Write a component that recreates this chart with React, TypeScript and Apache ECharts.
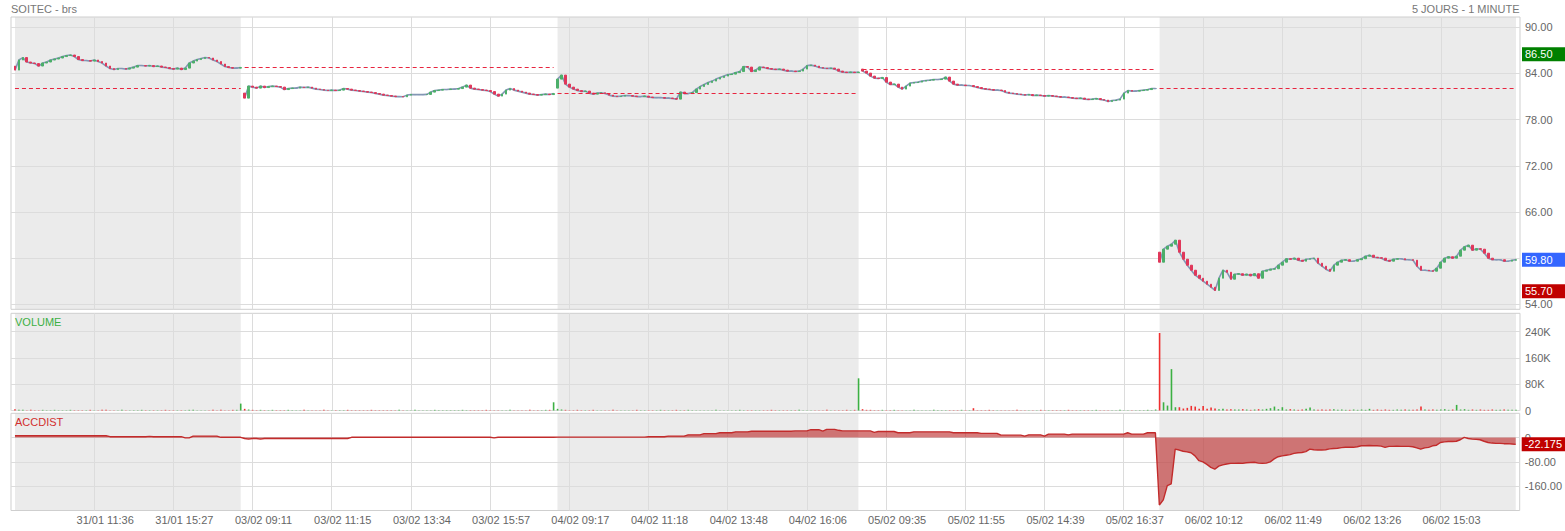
import React, { useEffect, useRef } from 'react';
import * as echarts from 'echarts';

// ---------- DATA ----------
const tickLabels = [
  '31/01 11:36', '31/01 15:27', '03/02 09:11', '03/02 11:15', '03/02 13:34', '03/02 15:57',
  '04/02 09:17', '04/02 11:18', '04/02 13:48', '04/02 16:06', '05/02 09:35', '05/02 11:55',
  '05/02 14:39', '05/02 16:37', '06/02 10:12', '06/02 11:49', '06/02 13:26', '06/02 15:03',
];
const tickStep = 20; // sampled points between two labelled ticks

const dayOpens = [84.95, 81.44, 82.09, 84.56, 60.77];
const prevCloses = [82.05, 84.79, 81.40, 84.53, 82.05];
const shadedDays = [0, 2, 4];

const day1Close = [
  84.43, 85.74, 86.06, 85.48, 85.35, 85.28, 84.96, 85.35, 85.48, 85.74,
  85.87, 86.00, 86.19, 86.32, 86.39, 86.19, 85.80, 85.67, 85.67, 85.60,
  85.74, 85.54, 85.35, 84.96, 84.63, 84.50, 84.63, 84.63, 84.56, 84.69,
  84.82, 85.02, 85.02, 84.96, 85.02, 84.89, 84.96, 84.82, 84.76, 84.63,
  84.56, 84.69, 84.50, 84.69, 85.35, 85.60, 85.80, 85.93, 86.06, 86.00,
  85.74, 85.54, 85.22, 84.89, 84.76, 84.69, 84.69, 84.76,
];
const day2Close = [
  80.79, 82.35, 82.22, 82.09, 82.35, 82.16, 82.29, 82.35, 82.29, 82.22,
  81.90, 82.03, 82.09, 82.09, 82.22, 82.16, 82.22, 82.09, 81.96, 81.90,
  81.83, 81.77, 81.83, 81.77, 81.83, 82.03, 81.96, 81.83, 81.77, 81.70,
  81.64, 81.57, 81.51, 81.38, 81.31, 81.18, 81.12, 81.05, 80.99, 80.99,
  80.96, 81.18, 81.25, 81.25, 81.25, 81.25, 81.27, 81.57, 81.77, 81.83,
  81.90, 81.90, 81.96, 81.96, 82.03, 82.22, 82.48, 82.09, 81.96, 81.90,
  81.83, 81.77, 81.64, 81.31, 81.05, 81.31, 81.83, 82.03, 81.83, 81.70,
  81.57, 81.44, 81.31, 81.25, 81.18, 81.25, 81.31, 81.25, 81.38,
];
const day3Close = [
  83.26, 83.78, 82.61, 82.22, 81.96, 81.77, 81.64, 81.70, 81.44, 81.31,
  81.44, 81.48, 81.38, 81.18, 81.05, 80.99, 81.05, 81.12, 81.12, 81.05,
  80.99, 80.99, 81.05, 80.92, 80.86, 80.86, 80.86, 80.79, 80.79, 80.73,
  80.66, 81.57, 81.38, 81.38, 81.51, 81.96, 82.29, 82.55, 82.81, 83.00,
  83.26, 83.46, 83.65, 83.85, 83.91, 84.11, 84.24, 84.89, 84.82, 84.24,
  84.43, 84.82, 84.76, 84.63, 84.56, 84.50, 84.56, 84.43, 84.30, 84.30,
  84.24, 84.30, 84.56, 85.02, 85.08, 84.95, 84.76, 84.69, 84.63, 84.69,
  84.56, 84.30, 84.17, 84.11, 84.17, 84.11, 84.17,
];
const day4Close = [
  84.30, 84.04, 83.65, 83.39, 83.33, 83.46, 82.87, 82.55, 82.61, 82.22,
  81.96, 82.35, 82.74, 82.81, 82.87, 83.00, 83.07, 83.13, 83.20, 83.20,
  83.26, 83.52, 83.00, 82.61, 82.48, 82.48, 82.42, 82.42, 82.29, 82.16,
  82.03, 81.96, 81.90, 81.83, 81.83, 81.77, 81.57, 81.44, 81.38, 81.31,
  81.25, 81.18, 81.25, 81.12, 81.18, 81.12, 81.05, 81.12, 81.05, 80.99,
  80.92, 80.92, 80.86, 80.79, 80.73, 80.79, 80.66, 80.60, 80.66, 80.73,
  80.60, 80.53, 80.34, 80.47, 80.53, 80.66, 81.44, 81.77, 81.70, 81.70,
  81.77, 81.83, 81.90, 82.03, 82.03,
];
const day5Close = [
  59.47, 61.16, 61.55, 61.81, 62.33, 60.77, 59.86, 59.08, 58.43, 57.78,
  57.39, 57.00, 56.61, 56.22, 55.80, 57.39, 58.43, 58.17, 57.26, 57.91,
  57.97, 57.78, 57.91, 57.71, 57.97, 57.39, 58.30, 58.43, 58.56, 58.62,
  59.08, 59.47, 59.92, 59.86, 59.99, 59.73, 59.60, 59.86, 59.92, 59.99,
  59.34, 58.95, 58.56, 58.30, 59.08, 59.47, 59.73, 59.79, 59.60, 59.60,
  59.79, 59.92, 60.25, 60.38, 60.12, 60.05, 59.99, 59.73, 59.60, 59.86,
  59.92, 59.92, 59.79, 59.79, 59.73, 58.95, 58.43, 58.43, 58.36, 58.30,
  58.69, 59.47, 59.99, 60.18, 59.99, 60.25, 61.03, 61.48, 61.68, 61.03,
  61.22, 61.16, 60.64, 59.99, 59.79, 59.79, 59.79, 59.60, 59.60, 59.73,
  59.80,
];

// volume, thousands of shares
const day1Vol = [
  4, 2, 2, 1, 2, 1, 1, 2, 1, 1, 2, 1, 1, 1, 2, 1, 1, 1, 1, 2,
  1, 1, 2, 2, 1, 1, 1, 2, 1, 1, 1, 1, 2, 1, 1, 1, 1, 1, 2, 1,
  1, 1, 1, 1, 2, 2, 1, 1, 1, 1, 2, 1, 2, 1, 1, 2, 2, 21,
];
const day2Vol = [
  5, 3, 2, 1, 2, 1, 1, 2, 1, 1, 1, 2, 1, 1, 1, 2, 1, 1, 1, 1,
  2, 1, 1, 1, 1, 1, 2, 1, 1, 1, 1, 1, 2, 1, 1, 1, 1, 1, 1, 2,
  1, 1, 1, 2, 1, 1, 1, 1, 2, 1, 1, 1, 1, 1, 1, 2, 1, 1, 1, 1,
  1, 2, 1, 1, 1, 1, 1, 2, 1, 1, 1, 1, 2, 1, 1, 1, 2, 2, 25,
];
const day3Vol = [
  5, 3, 2, 1, 1, 2, 1, 1, 1, 2, 1, 1, 1, 1, 2, 1, 1, 1, 1, 1,
  2, 1, 1, 1, 1, 1, 2, 1, 1, 1, 2, 1, 1, 2, 1, 1, 1, 1, 1, 1,
  2, 1, 1, 1, 1, 1, 2, 1, 1, 1, 1, 1, 1, 1, 2, 1, 1, 1, 1, 1,
  1, 2, 1, 1, 1, 1, 1, 1, 2, 1, 1, 1, 1, 2, 1, 2, 98,
];
const day4Vol = [
  4, 2, 2, 1, 1, 2, 1, 1, 2, 1, 1, 1, 1, 2, 1, 1, 1, 1, 2, 1,
  1, 1, 1, 1, 1, 2, 1, 1, 7, 1, 1, 1, 2, 1, 1, 1, 1, 1, 1, 2,
  1, 1, 1, 1, 1, 2, 1, 1, 1, 1, 1, 1, 2, 1, 1, 1, 1, 1, 1, 2,
  1, 1, 1, 1, 1, 2, 1, 1, 1, 1, 1, 1, 2, 1, 3,
];
const day5Vol = [
  236, 25, 15, 126, 10, 10, 6, 8, 14, 12, 5, 14, 5, 9, 6, 4, 5, 3, 4, 3,
  3, 4, 3, 2, 3, 4, 3, 5, 7, 12, 4, 10, 3, 4, 3, 2, 3, 5, 9, 3,
  2, 3, 2, 3, 4, 2, 3, 2, 2, 3, 2, 3, 2, 5, 2, 3, 2, 3, 2, 2,
  3, 2, 3, 2, 2, 3, 12, 3, 2, 3, 2, 3, 4, 2, 3, 17, 3, 4, 2, 3,
  2, 3, 2, 2, 3, 2, 2, 3, 2, 2, 2,
];

// accumulation / distribution
const day1Acc = [
  6, 6, 6, 6, 6, 6, 6, 6, 6, 6, 6, 6, 6, 6, 6, 6, 6, 6, 6, 6,
  6, 6, 6, 6, 3, 3, 3, 3, 3, 3, 3, 3, 3, 3, 4, 3, 3, 3, 3, 3,
  3, 3, 3, -1, -1, 5, 5, 5, 5, 5, 5, 5, 1, 1, 1, 1, 1, 1,
];
const day2Acc = [
  -3, -5, -3, -3, -5, -3, -3, -3, -3, -3, -3, -3, -3, -3, -3, -3, -3, -3, -3, -3,
  -3, -3, -3, -3, -3, -3, -3, 1, 1, 1, 1, 1, 1, 1, 1, 1, 1, 1, 1, 1,
  1, 1, 1, 1, 1, 1, 1, 1, 1, 1, 1, 1, 1, 1, 1, 1, 1, 1, 1, 1,
  1, 1, 1, -1, 1, 1, 1, 1, 1, 1, 1, 1, 1, 1, 1, 1, 1, 1, 1,
];
const day3Acc = [
  1.5, 1.5, 1.5, 1.5, 1.5, 1.5, 1.5, 1.5, 1.5, 1.5, 1.5, 1.5, 1.5, 1.5, 1.5, 1.5, 1.5, 1.5, 1.5, 1.5,
  1.5, 1.5, 1.5, 3, 3, 3, 3, 3, 5, 5, 5, 5, 5, 9, 9, 9, 9, 13, 13, 13,
  13, 16, 16, 16, 16, 19, 19, 19, 19, 21, 21, 21, 21, 21, 21, 21, 21, 21, 21, 21,
  22, 22, 22, 22, 26, 26, 26, 21, 27, 27, 27, 24, 22, 22, 22, 22, 22,
];
const day4Acc = [
  22, 22, 22, 17, 20, 20, 20, 20, 20, 16, 16, 16, 16, 19, 19, 19, 19, 19, 19, 19,
  19, 19, 19, 16, 16, 16, 16, 16, 16, 16, 14, 14, 14, 14, 14, 8, 8, 8, 8, 8,
  8, 5, 9, 9, 9, 9, 5, 11.5, 11.5, 11.5, 11.5, 11.5, 9, 11.5, 11.5, 11.5, 11.5, 11.5, 11.5, 11.5,
  11.5, 11.5, 11.5, 11.5, 11.5, 11.5, 11.5, 16, 11.5, 11.5, 11.5, 11.5, 16, 16, 16,
];
const day5Acc = [
  -222, -205, -158, -152, -38, -41, -45, -47, -50, -60,
  -76, -80, -88, -98, -104, -94, -90, -87, -85, -85,
  -84, -85, -83, -82, -81, -84, -85, -84, -80, -70,
  -63, -60, -58, -56, -52, -50, -49, -46, -38, -40,
  -41, -41, -40, -37, -36, -35, -33, -32, -32, -32,
  -30, -27, -27, -26, -27, -27, -28, -32, -29, -29,
  -28, -29, -29, -29, -30, -34, -38, -34, -32, -27,
  -25, -16, -14, -13, -13, -12, -7, 1, -3, -5,
  -6, -7, -12, -16, -18, -19, -19, -20, -20, -21,
  -22.175,
];

const priceTicks = [54, 60, 66, 72, 78, 84, 90];
const volumeTicks = [0, 80, 160, 240];
const accTicks = [-160, -80, 0];
const highValue = 86.5;
const lowValue = 55.7;
const lastValue = 59.8;
const accLast = -22.175;

// ---------- STYLE ----------
const FONT = '"Liberation Sans", Arial, Helvetica, sans-serif';
const GRID_LINE = '#dcdcdc';
const FRAME = '#cfcfcf';
const SHADE = '#ebebeb';
const LABEL = '#666';
const UP = '#4caf6a';
const DOWN = '#e0375a';
const WICK = '#8497b5';
const PREV_CLOSE = '#e8253f';

function buildOption() {
  const closesByDay = [day1Close, day2Close, day3Close, day4Close, day5Close];
  const volByDay = [day1Vol, day2Vol, day3Vol, day4Vol, day5Vol];
  const accByDay = [day1Acc, day2Acc, day3Acc, day4Acc, day5Acc];

  const starts: number[] = [];
  let p = 1;
  closesByDay.forEach((d) => { starts.push(p); p += d.length; });
  const ends = starts.map((s, d) => s + closesByDay[d].length - 1);
  const total = p - 1;
  const catCount = total + 2;

  const categories = Array.from({ length: catCount }, (_, i) => {
    const k = (i - 1) / tickStep;
    return Number.isInteger(k) && k >= 1 && k <= tickLabels.length ? tickLabels[k - 1] : '';
  });
  const gridTick = (i: number) => i > 1 && i < catCount - 1 && (i - 1) % tickStep === 0;

  const candles: number[][] = [];
  const isUp: boolean[] = [];
  closesByDay.forEach((day, d) => {
    day.forEach((c, k) => {
      const o = k === 0 ? dayOpens[d] : day[k - 1];
      candles.push([starts[d] + k, o, c, Math.min(o, c), Math.max(o, c)]);
      isUp.push(c >= o);
    });
  });
  const vols = volByDay.flat();
  const accs = accByDay.flat();
  const volData = vols.map((v, i) => ({
    value: [i + 1, v],
    itemStyle: { color: isUp[i] ? '#3cb043' : '#ef2f2f' },
  }));
  const accData = accs.map((v, i) => [i + 1, v]);

  const shade = {
    silent: true,
    itemStyle: { color: SHADE },
    data: shadedDays.map((d) => [{ xAxis: starts[d] }, { xAxis: ends[d] }]),
  };

  const tag = (value: number, bg: string, text: string) => ({
    yAxis: value,
    lineStyle: { color: 'rgba(0,0,0,0)', width: 1, type: 'solid' },
    label: {
      show: true, position: 'end', formatter: text, backgroundColor: bg, color: '#fff',
      padding: [2, 14, 1, 3], fontSize: 11, fontFamily: FONT, distance: 2,
    },
  });

  const dashStyle = { color: PREV_CLOSE, type: [4, 3], width: 1, opacity: 1 };
  const prevLines = prevCloses.map((v, d) => [
    { coord: [starts[d], v], lineStyle: dashStyle, label: { show: false } },
    { coord: [ends[d], v], lineStyle: dashStyle },
  ]);

  const baseX = (gi: number, showLabels: boolean) => ({
    type: 'category', gridIndex: gi, data: categories, boundaryGap: false, z: 1.5,
    axisLine: { show: false }, axisTick: { show: false },
    axisLabel: showLabels
      ? { show: true, interval: (i: number) => categories[i] !== '', color: LABEL, fontSize: 11, fontFamily: FONT, margin: 4, padding: [0, 0, 0, 22] }
      : { show: false },
    splitLine: { show: true, interval: (i: number) => gridTick(i), lineStyle: { color: GRID_LINE, width: 1 } },
  });
  const yLabel = { color: LABEL, fontSize: 11, fontFamily: FONT, margin: 5, padding: [0, 0, 4, 0] };

  // helper series (no visible marks) carrying background shading and price tags
  const helper = (gi: number, y: number, extra: any) => ({
    type: 'line', xAxisIndex: gi, yAxisIndex: gi, silent: true, clip: false,
    showSymbol: false, symbol: 'none', lineStyle: { width: 0, opacity: 0 },
    data: [[1, y]],
    ...extra,
  });

  const dayLines = closesByDay.map((day, d) => ({
    type: 'line', xAxisIndex: 0, yAxisIndex: 0, showSymbol: false, silent: true, z: 2,
    lineStyle: { color: WICK, width: 1.6 },
    data: day.map((c, k) => [starts[d] + k, c]),
  }));

  return {
    animation: false,
    backgroundColor: '#fff',
    textStyle: { fontFamily: FONT },
    grid: [
      { left: 11, right: 45, top: 17, height: 292.3, show: true, borderColor: FRAME, borderWidth: 1, z: 1.5 },
      { left: 11, right: 45, top: 313.3, height: 97.2, show: true, borderColor: FRAME, borderWidth: 1, z: 1.5 },
      { left: 11, right: 45, top: 413.3, height: 97.2, show: true, borderColor: FRAME, borderWidth: 1, z: 1.5 },
    ],
    xAxis: [baseX(0, false), baseX(1, false), baseX(2, true)],
    yAxis: [
      {
        type: 'value', gridIndex: 0, position: 'right', min: 53.35, max: 91.33, z: 1.5,
        axisLine: { show: false }, axisTick: { show: false, customValues: priceTicks },
        axisLabel: { ...yLabel, customValues: priceTicks, formatter: (v: number) => v.toFixed(2) },
        splitLine: { show: true, lineStyle: { color: GRID_LINE } },
      },
      {
        type: 'value', gridIndex: 1, position: 'right', min: 0, max: 296, z: 1.5,
        axisLine: { show: false }, axisTick: { show: false, customValues: volumeTicks },
        axisLabel: { ...yLabel, customValues: volumeTicks, formatter: (v: number) => (v === 0 ? '0' : v + 'K') },
        splitLine: { show: true, lineStyle: { color: GRID_LINE } },
      },
      {
        type: 'value', gridIndex: 2, position: 'right', min: -240, max: 80, z: 1.5,
        axisLine: { show: false }, axisTick: { show: false, customValues: accTicks },
        axisLabel: { ...yLabel, customValues: accTicks, formatter: (v: number) => (v === 0 ? '0' : v.toFixed(2)) },
        splitLine: { show: true, lineStyle: { color: GRID_LINE } },
      },
    ],
    graphic: [
      { type: 'text', z: 10, x: 11, y: 9, style: { text: 'SOITEC - brs', fill: '#777', fontSize: 11, fontFamily: FONT, verticalAlign: 'middle' } },
      { type: 'text', z: 10, x: 1519.5, y: 9, style: { text: '5 JOURS - 1 MINUTE', fill: '#777', fontSize: 11, fontFamily: FONT, align: 'right', verticalAlign: 'middle' } },
      { type: 'text', z: 10, x: 15, y: 322, style: { text: 'VOLUME', fill: '#3cb043', fontSize: 11, fontFamily: FONT, verticalAlign: 'middle' } },
      { type: 'text', z: 10, x: 15, y: 422, style: { text: 'ACCDIST', fill: '#d22f2f', fontSize: 11, fontFamily: FONT, verticalAlign: 'middle' } },
    ],
    series: [
      helper(0, 70, { markArea: shade }),
      helper(1, 0, { markArea: shade }),
      helper(2, 0, { markArea: shade }),
      ...dayLines,
      {
        type: 'candlestick', xAxisIndex: 0, yAxisIndex: 0, z: 2, silent: true,
        encode: { x: 0, y: [1, 2, 3, 4] },
        barWidth: 2.2,
        itemStyle: { color: UP, color0: DOWN, borderColor: UP, borderColor0: DOWN, borderColorDoji: WICK, borderWidth: 1 },
        data: candles,
      },
      {
        type: 'bar', xAxisIndex: 1, yAxisIndex: 1, barWidth: 1.6, silent: true, z: 2,
        data: volData,
      },
      {
        type: 'line', xAxisIndex: 2, yAxisIndex: 2, showSymbol: false, silent: true, z: 2,
        lineStyle: { color: '#c22b2b', width: 1.4 },
        areaStyle: { color: 'rgba(185,30,30,0.58)', opacity: 1 },
        data: accData,
      },
      helper(0, 70, {
        markLine: {
          silent: true, symbol: ['none', 'none'], animation: false,
          lineStyle: dashStyle,
          label: { show: false },
          data: prevLines,
        },
      }),
      helper(0, 70, {
        markLine: {
          silent: true, symbol: ['none', 'none'], animation: false,
          data: [
            tag(highValue, '#008000', highValue.toFixed(2)),
            tag(lastValue, '#3366ff', lastValue.toFixed(2)),
            tag(lowValue, '#c00000', lowValue.toFixed(2)),
          ],
        },
      }),
      helper(2, 0, {
        markLine: {
          silent: true, symbol: ['none', 'none'], animation: false,
          data: [tag(accLast, '#c00000', String(accLast))],
        },
      }),
    ],
  };
}

export default function App() {
  const ref = useRef<HTMLDivElement>(null);
  useEffect(() => {
    if (!ref.current) return;
    const chart = echarts.init(ref.current, undefined, { renderer: 'svg' });
    chart.setOption(buildOption() as any);
    return () => chart.dispose();
  }, []);
  return (
    <div
      ref={ref}
      style={{ position: 'fixed', left: 0, top: 0, width: 1565, height: 531, background: '#fff' }}
    />
  );
}
